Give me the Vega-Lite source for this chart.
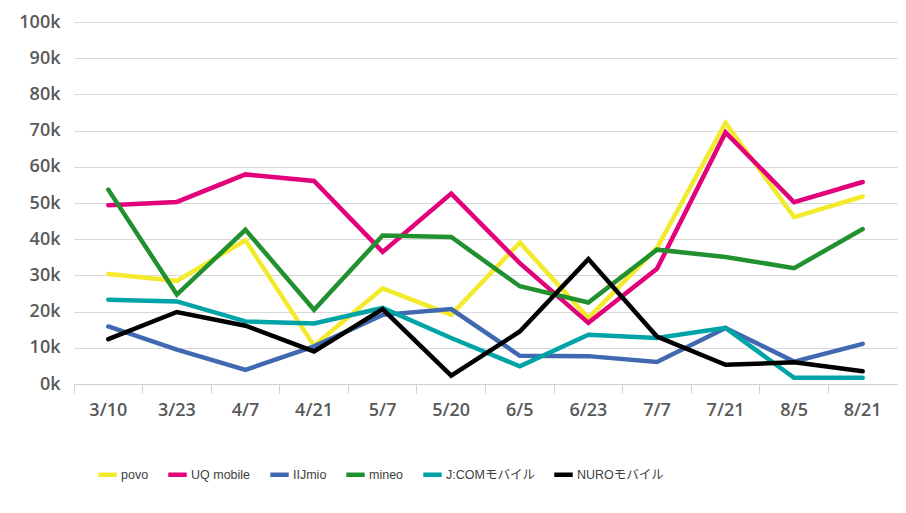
{
  "$schema": "https://vega.github.io/schema/vega-lite/v6.json",
  "width": 823,
  "height": 362,
  "autosize": {"type": "none"},
  "padding": {"left": 74, "top": 22, "right": 9, "bottom": 129},
  "background": "white",
  "data": {
    "values": [
      {"date": "3/10", "series": "povo", "v": 30400},
      {"date": "3/23", "series": "povo", "v": 28500},
      {"date": "4/7", "series": "povo", "v": 39700},
      {"date": "4/21", "series": "povo", "v": 10600},
      {"date": "5/7", "series": "povo", "v": 26400},
      {"date": "5/20", "series": "povo", "v": 19100},
      {"date": "6/5", "series": "povo", "v": 39100},
      {"date": "6/23", "series": "povo", "v": 18200},
      {"date": "7/7", "series": "povo", "v": 37600},
      {"date": "7/21", "series": "povo", "v": 72100},
      {"date": "8/5", "series": "povo", "v": 46100},
      {"date": "8/21", "series": "povo", "v": 51800},

      {"date": "3/10", "series": "UQ mobile", "v": 49400},
      {"date": "3/23", "series": "UQ mobile", "v": 50300},
      {"date": "4/7", "series": "UQ mobile", "v": 57900},
      {"date": "4/21", "series": "UQ mobile", "v": 56100},
      {"date": "5/7", "series": "UQ mobile", "v": 36500},
      {"date": "5/20", "series": "UQ mobile", "v": 52600},
      {"date": "6/5", "series": "UQ mobile", "v": 33400},
      {"date": "6/23", "series": "UQ mobile", "v": 16900},
      {"date": "7/7", "series": "UQ mobile", "v": 31800},
      {"date": "7/21", "series": "UQ mobile", "v": 69500},
      {"date": "8/5", "series": "UQ mobile", "v": 50200},
      {"date": "8/21", "series": "UQ mobile", "v": 55800},

      {"date": "3/10", "series": "IIJmio", "v": 15900},
      {"date": "3/23", "series": "IIJmio", "v": 9500},
      {"date": "4/7", "series": "IIJmio", "v": 3900},
      {"date": "4/21", "series": "IIJmio", "v": 10400},
      {"date": "5/7", "series": "IIJmio", "v": 19100},
      {"date": "5/20", "series": "IIJmio", "v": 20700},
      {"date": "6/5", "series": "IIJmio", "v": 7800},
      {"date": "6/23", "series": "IIJmio", "v": 7700},
      {"date": "7/7", "series": "IIJmio", "v": 6100},
      {"date": "7/21", "series": "IIJmio", "v": 15500},
      {"date": "8/5", "series": "IIJmio", "v": 6200},
      {"date": "8/21", "series": "IIJmio", "v": 11100},

      {"date": "3/10", "series": "mineo", "v": 53700},
      {"date": "3/23", "series": "mineo", "v": 24700},
      {"date": "4/7", "series": "mineo", "v": 42600},
      {"date": "4/21", "series": "mineo", "v": 20500},
      {"date": "5/7", "series": "mineo", "v": 41000},
      {"date": "5/20", "series": "mineo", "v": 40600},
      {"date": "6/5", "series": "mineo", "v": 27000},
      {"date": "6/23", "series": "mineo", "v": 22500},
      {"date": "7/7", "series": "mineo", "v": 37100},
      {"date": "7/21", "series": "mineo", "v": 35100},
      {"date": "8/5", "series": "mineo", "v": 32000},
      {"date": "8/21", "series": "mineo", "v": 42800},

      {"date": "3/10", "series": "J:COMモバイル", "v": 23300},
      {"date": "3/23", "series": "J:COMモバイル", "v": 22800},
      {"date": "4/7", "series": "J:COMモバイル", "v": 17300},
      {"date": "4/21", "series": "J:COMモバイル", "v": 16700},
      {"date": "5/7", "series": "J:COMモバイル", "v": 21000},
      {"date": "5/20", "series": "J:COMモバイル", "v": 12700},
      {"date": "6/5", "series": "J:COMモバイル", "v": 4900},
      {"date": "6/23", "series": "J:COMモバイル", "v": 13600},
      {"date": "7/7", "series": "J:COMモバイル", "v": 12700},
      {"date": "7/21", "series": "J:COMモバイル", "v": 15500},
      {"date": "8/5", "series": "J:COMモバイル", "v": 1700},
      {"date": "8/21", "series": "J:COMモバイル", "v": 1700},

      {"date": "3/10", "series": "NUROモバイル", "v": 12400},
      {"date": "3/23", "series": "NUROモバイル", "v": 19900},
      {"date": "4/7", "series": "NUROモバイル", "v": 16100},
      {"date": "4/21", "series": "NUROモバイル", "v": 9000},
      {"date": "5/7", "series": "NUROモバイル", "v": 20700},
      {"date": "5/20", "series": "NUROモバイル", "v": 2300},
      {"date": "6/5", "series": "NUROモバイル", "v": 14500},
      {"date": "6/23", "series": "NUROモバイル", "v": 34500},
      {"date": "7/7", "series": "NUROモバイル", "v": 13100},
      {"date": "7/21", "series": "NUROモバイル", "v": 5300},
      {"date": "8/5", "series": "NUROモバイル", "v": 6000},
      {"date": "8/21", "series": "NUROモバイル", "v": 3500}
    ]
  },
  "mark": {"type": "line", "strokeWidth": 4.5, "strokeCap": "round", "strokeJoin": "miter"},
  "encoding": {
    "x": {
      "field": "date",
      "type": "ordinal",
      "sort": null,
      "scale": {"type": "band", "paddingInner": 0, "paddingOuter": 0},
      "title": null,
      "axis": {
        "labelAngle": 0,
        "bandPosition": 0,
        "ticks": true,
        "tickSize": 9,
        "tickColor": "#d0d0d0",
        "domainColor": "#d0d0d0",
        "labelPadding": 8,
        "labelFontSize": 18,
        "labelFont": "Open Sans",
        "labelFontWeight": 600,
        "labelColor": "#595959",
        "grid": false
      }
    },
    "y": {
      "field": "v",
      "type": "quantitative",
      "scale": {"domain": [0, 100000], "nice": false},
      "title": null,
      "axis": {
        "values": [0, 10000, 20000, 30000, 40000, 50000, 60000, 70000, 80000, 90000, 100000],
        "labelExpr": "datum.value / 1000 + 'k'",
        "domain": false,
        "ticks": false,
        "labelPadding": 14,
        "labelFontSize": 18,
        "labelFont": "Open Sans",
        "labelFontWeight": 600,
        "labelColor": "#595959",
        "gridColor": "#d9d9d9",
        "gridWidth": 1
      }
    },
    "color": {
      "field": "series",
      "type": "nominal",
      "sort": null,
      "scale": {
        "domain": ["povo", "UQ mobile", "IIJmio", "mineo", "J:COMモバイル", "NUROモバイル"],
        "range": ["#f3ea2e", "#e2007b", "#4169b1", "#21902f", "#00a3a6", "#000000"]
      },
      "legend": {
        "title": null,
        "orient": "none",
        "direction": "horizontal",
        "legendX": 22,
        "legendY": 441,
        "symbolType": "stroke",
        "symbolStrokeWidth": 4.5,
        "symbolSize": 340,
        "labelFontSize": 12.5,
        "labelFont": "Liberation Sans, Noto Sans CJK JP",
        "labelColor": "#404040",
        "labelOffset": 2,
        "columnPadding": 10
      }
    }
  },
  "config": {"view": {"stroke": null}}
}
